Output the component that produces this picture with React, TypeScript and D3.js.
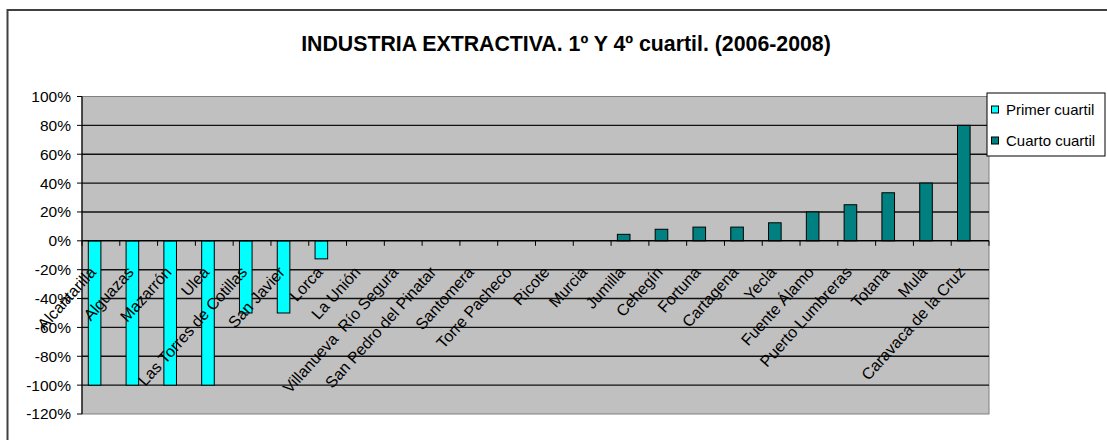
import React from "react";
import * as d3 from "d3";

const categories = [
  "Alcantarilla", "Alguazas", "Mazarrón", "Ulea", "Las Torres de Cotillas", "San Javier",
  "Lorca", "La Unión", "Villanueva  Río Segura", "San Pedro del Pinatar", "Santomera",
  "Torre Pacheco", "Ricote", "Murcia", "Jumilla", "Cehegín", "Fortuna", "Cartagena",
  "Yecla", "Fuente Álamo", "Puerto Lumbreras", "Totana", "Mula", "Caravaca de la Cruz",
];
const primerCuartil: (number | null)[] = [
  -100, -100, -100, -100, -50, -50, -12.5, null, null, null, null, null,
  null, null, null, null, null, null, null, null, null, null, null, null,
];
const cuartoCuartil: (number | null)[] = [
  null, null, null, null, null, null, null, null, null, null, null, null,
  null, null, 4.5, 8, 9.5, 9.5, 12.5, 20, 25, 33.3, 40, 80,
];
const yTicks = [100, 80, 60, 40, 20, 0, -20, -40, -60, -80, -100, -120];
const seriesNames = ["Primer cuartil", "Cuarto cuartil"];
const seriesColors = ["#00FFFF", "#008080"];

const W = 1107, H = 440;
const plot = { left: 82, right: 989, top: 96.5, bottom: 414 };
const FONT = "Arial, 'Liberation Sans', sans-serif";

export default function App() {
  const x = d3.scaleBand<string>().domain(categories).range([plot.left, plot.right]).paddingInner(0).paddingOuter(0);
  const y = d3.scaleLinear().domain([-120, 100]).range([plot.bottom, plot.top]);
  const bw = x.bandwidth();
  const y0 = y(0);
  const series = [primerCuartil, cuartoCuartil];

  return (
    <div style={{ position: "absolute", left: 0, top: 0 }}>
      <svg width={W} height={H} style={{ display: "block", background: "#fff" }}>
        <rect x={7.5} y={10} width={1200} height={500} fill="#fff" stroke="#404040" strokeWidth={2} />
        <text x={566} y={51} textAnchor="middle" fontFamily={FONT} fontWeight="bold" fontSize={21.3} fill="#000">
          INDUSTRIA EXTRACTIVA. 1º Y 4º cuartil. (2006-2008)
        </text>
        {/* plot area */}
        <rect x={plot.left} y={plot.top} width={plot.right - plot.left} height={plot.bottom - plot.top}
          fill="#C0C0C0" stroke="#808080" strokeWidth={1} />
        {yTicks.filter(t => t !== 100 && t !== -120 && t !== 0).map(t => (
          <line key={t} x1={plot.left} x2={plot.right} y1={y(t)} y2={y(t)} stroke="#111" strokeWidth={1.4} />
        ))}
        {/* bars */}
        {series.map((s, si) => s.map((v, i) => v === null ? null : (
          <rect key={`${si}-${i}`} x={(x(categories[i]) as number) + bw / 6} width={bw / 3}
            y={Math.min(y(v), y0)} height={Math.abs(y(v) - y0)}
            fill={seriesColors[si]} stroke="#000" strokeWidth={1} />
        )))}
        {/* x axis at zero */}
        <line x1={plot.left} x2={plot.right} y1={y0} y2={y0} stroke="#000" strokeWidth={1.4} />
        {categories.map((c) => (
          <line key={c} x1={(x(c) as number)} x2={(x(c) as number)} y1={y0} y2={y0 + 5} stroke="#000" strokeWidth={1} />
        ))}
        <line x1={plot.right} x2={plot.right} y1={y0} y2={y0 + 5} stroke="#000" strokeWidth={1} />
        {/* y axis */}
        <line x1={plot.left} x2={plot.left} y1={plot.top} y2={plot.bottom} stroke="#000" strokeWidth={1.2} />
        {yTicks.map(t => (
          <g key={t}>
            <line x1={plot.left - 5} x2={plot.left} y1={y(t)} y2={y(t)} stroke="#000" strokeWidth={1} />
            <text x={71} y={y(t)} dy="0.35em" textAnchor="end" fontFamily={FONT} fontSize={15.5} fill="#000">{`${t}%`}</text>
          </g>
        ))}
        {/* category labels */}
        {categories.map(c => {
          const cx = (x(c) as number) + bw / 2;
          return (
            <text key={c} transform={`translate(${cx - 4},${y0 + 32}) rotate(-48)`} textAnchor="end"
              fontFamily={FONT} fontSize={16} fill="#000" style={{ whiteSpace: "pre" }}>{c}</text>
          );
        })}
        {/* legend */}
        <rect x={987} y={93} width={118} height={63} fill="#fff" stroke="#000" strokeWidth={1} />
        {seriesNames.map((n, i) => (
          <g key={n} transform={`translate(0,${110 + i * 31})`}>
            <rect x={991.5} y={-4} width={7} height={7} fill={seriesColors[i]} stroke="#000" strokeWidth={1} />
            <text x={1006} y={0} dy="0.35em" fontFamily={FONT} fontSize={15} fill="#000">{n}</text>
          </g>
        ))}
      </svg>
    </div>
  );
}
